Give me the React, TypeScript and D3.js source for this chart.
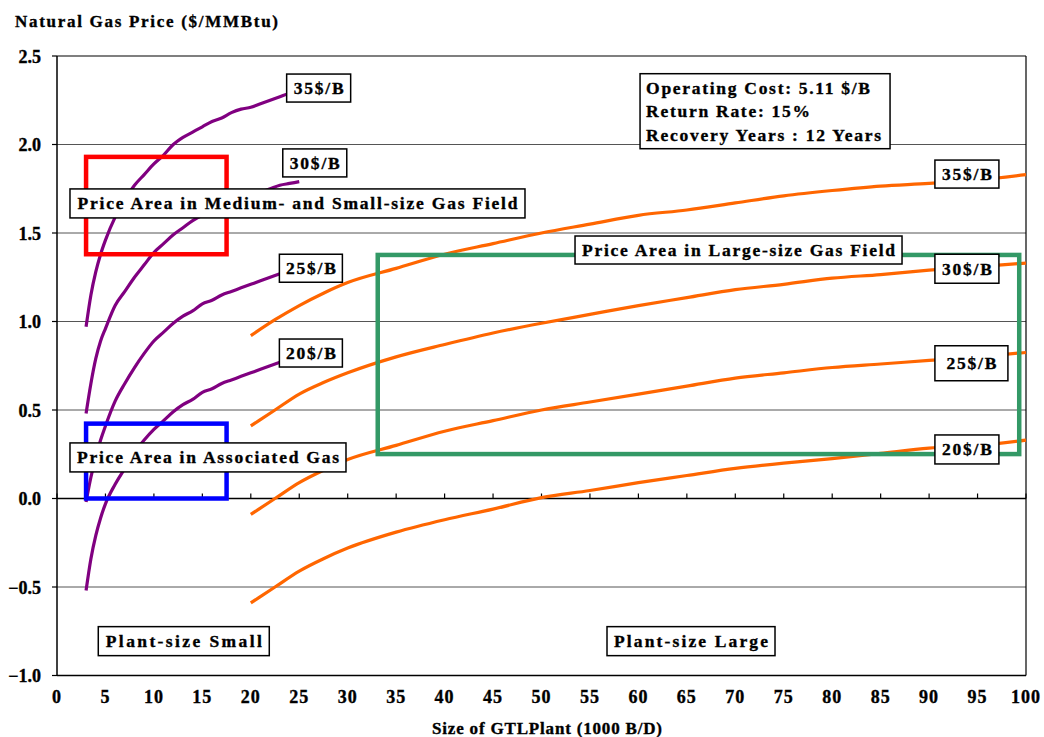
import React from "react";
import * as d3 from "d3";

// ---- Data ----
const xTickValues = [0, 5, 10, 15, 20, 25, 30, 35, 40, 45, 50, 55, 60, 65, 70, 75, 80, 85, 90, 95, 100];
const yTickValues = [-1.0, -0.5, 0.0, 0.5, 1.0, 1.5, 2.0, 2.5];

// Small plants (purple curves)
const smallSize = [3, 3.5, 4, 4.5, 5, 6, 7, 8, 9, 10, 11, 12, 13, 14, 15, 16, 17, 18, 19, 20, 21, 22, 23, 24, 25];
const small35 = [0.97, 1.15, 1.28, 1.38, 1.46, 1.59, 1.69, 1.77, 1.83, 1.89, 1.94, 2.0, 2.04, 2.07, 2.1, 2.13, 2.15, 2.18, 2.2, 2.21, 2.23, 2.25, 2.27, 2.29, 2.3];
const small30 = [0.48, 0.65, 0.79, 0.89, 0.96, 1.09, 1.17, 1.25, 1.32, 1.39, 1.44, 1.49, 1.53, 1.57, 1.6, 1.62, 1.65, 1.67, 1.69, 1.71, 1.73, 1.75, 1.77, 1.78, 1.79];
const small25 = [-0.02, 0.12, 0.23, 0.33, 0.41, 0.55, 0.65, 0.74, 0.82, 0.89, 0.94, 0.99, 1.03, 1.06, 1.1, 1.12, 1.15, 1.17, 1.19, 1.21, 1.23, 1.25, 1.27, 1.29, 1.3];
const small20 = [-0.52, -0.34, -0.21, -0.11, -0.03, 0.08, 0.17, 0.26, 0.33, 0.39, 0.44, 0.49, 0.53, 0.56, 0.6, 0.62, 0.65, 0.67, 0.69, 0.71, 0.73, 0.75, 0.77, 0.79, 0.8];

// Large plants (orange curves)
const largeSize = [20, 22.5, 25, 27.5, 30, 35, 40, 45, 50, 55, 60, 65, 70, 75, 80, 85, 90, 95, 100];
const large35 = [0.92, 1.01, 1.09, 1.16, 1.22, 1.3, 1.38, 1.44, 1.5, 1.55, 1.6, 1.63, 1.67, 1.71, 1.74, 1.765, 1.78, 1.8, 1.83];
const large30 = [0.41, 0.5, 0.59, 0.655, 0.71, 0.8, 0.87, 0.935, 0.99, 1.04, 1.09, 1.135, 1.18, 1.21, 1.245, 1.265, 1.29, 1.31, 1.33];
const large25 = [-0.09, 0.0, 0.09, 0.16, 0.22, 0.3, 0.38, 0.44, 0.5, 0.545, 0.59, 0.635, 0.68, 0.71, 0.74, 0.76, 0.78, 0.8, 0.825];
const large20 = [-0.59, -0.5, -0.41, -0.34, -0.28, -0.19, -0.12, -0.06, 0.005, 0.045, 0.09, 0.13, 0.17, 0.2, 0.225, 0.255, 0.285, 0.3, 0.33];

const oilPriceLabels = ["35$/B", "30$/B", "25$/B", "20$/B"];
const infoLines = ["Operating Cost: 5.11 $/B", "Return Rate: 15%", "Recovery Years : 12 Years"];

const W = 1044;
const H = 737;
const FONT = "'Times New Roman', 'Liberation Serif', 'DejaVu Serif', serif";
const TXT = { fontFamily: FONT, fontWeight: "bold" as const, stroke: "#000", strokeWidth: 0.35 };

export default function App() {
  const x = d3.scaleLinear().domain([0, 100]).range([57, 1026]);
  const y = d3.scaleLinear().domain([-1, 2.5]).range([675.5, 56]);

  const line = (xs: number[], ys: number[]) =>
    d3
      .line<number>()
      .x((_, i) => x(xs[i]))
      .y((d) => y(d))
      .curve(d3.curveMonotoneX)(ys) as string;

  const smallSeries = [small35, small30, small25, small20];
  const largeSeries = [large35, large30, large25, large20];

  const purpleLabelPos = [
    { x: 23.7, y: 2.398, w: 64, h: 28 },
    { x: 23.3, y: 1.975, w: 64, h: 28 },
    { x: 22.95, y: 1.38, w: 63, h: 28 },
    { x: 22.95, y: 0.901, w: 63, h: 28 },
  ];
  const orangeLabelPos = [
    { x: 90.6, y: 1.912, w: 64, h: 28 },
    { x: 90.6, y: 1.38, w: 64, h: 29 },
    { x: 90.6, y: 0.863, w: 73, h: 35 },
    { x: 90.6, y: 0.359, w: 64, h: 29 },
  ];

  const areaBoxes = [
    { text: "Price Area in Medium- and Small-size Gas Field", x: 1.34, y: 1.749, w: 455, h: 29, tl: 440 },
    { text: "Price Area in Associated Gas", x: 1.34, y: 0.314, w: 276, h: 29, tl: 262 },
    { text: "Price Area in Large-size Gas Field", x: 53.46, y: 1.483, w: 327, h: 28, tl: 313 },
    { text: "Plant-size  Small", x: 4.26, y: -0.724, w: 171, h: 29, tl: 156 },
    { text: "Plant-size  Large", x: 56.76, y: -0.724, w: 168, h: 29, tl: 154 },
  ];

  const rects = [
    { x0: 3.0, x1: 17.5, y0: 1.38, y1: 1.93, color: "#FF0000" },
    { x0: 3.0, x1: 17.5, y0: 0.0, y1: 0.423, color: "#0000FF" },
    { x0: 33.1, x1: 99.3, y0: 0.251, y1: 1.376, color: "#339966" },
  ];

  const labelBox = (
    key: string,
    text: string,
    left: number,
    top: number,
    w: number,
    h: number,
    tl: number
  ) => (
    <g key={key}>
      <rect x={left} y={top} width={w} height={h} fill="#fff" stroke="#000" strokeWidth={1.5} />
      <text
        x={left + w / 2}
        y={top + h / 2 + 6}
        textAnchor="middle"
        {...TXT}
        fontSize={17.5}
        textLength={tl}
        lengthAdjust="spacing"
      >
        {text}
      </text>
    </g>
  );

  const infoLeft = x(60.17);
  const infoTop = y(2.4);

  return (
    <svg
      width={W}
      height={H}
      viewBox={`0 0 ${W} ${H}`}
      style={{ position: "absolute", left: 0, top: 0, background: "#fff" }}
    >
      <rect x={0} y={0} width={W} height={H} fill="#fff" />

      {/* gridlines */}
      {yTickValues
        .filter((v) => v !== 0 && v !== 2.5 && v !== -1)
        .map((v) => (
          <line key={"g" + v} x1={x(0)} x2={x(100)} y1={y(v)} y2={y(v)} stroke="#555" strokeWidth={1} />
        ))}

      {/* plot frame */}
      <line x1={x(0)} x2={x(100)} y1={y(2.5)} y2={y(2.5)} stroke="#000" strokeWidth={1.2} />
      <line x1={x(100)} x2={x(100)} y1={y(2.5)} y2={y(-1)} stroke="#000" strokeWidth={1.2} />
      <line x1={x(0)} x2={x(100)} y1={y(-1)} y2={y(-1)} stroke="#000" strokeWidth={1.5} />
      <line x1={x(0)} x2={x(0)} y1={y(2.5)} y2={y(-1)} stroke="#000" strokeWidth={1.5} />

      {/* x axis at zero */}
      <line x1={x(0)} x2={x(100)} y1={y(0)} y2={y(0)} stroke="#000" strokeWidth={1.5} />
      {xTickValues.map((v) => (
        <line key={"xt" + v} x1={x(v)} x2={x(v)} y1={y(0)} y2={y(0) - 5} stroke="#000" strokeWidth={1.2} />
      ))}
      {yTickValues.map((v) => (
        <line key={"yt" + v} x1={x(0) - 5} x2={x(0)} y1={y(v)} y2={y(v)} stroke="#000" strokeWidth={1.2} />
      ))}

      {/* y tick labels */}
      {yTickValues.map((v) => (
        <text key={"yl" + v} x={41} y={y(v) + 6.5} textAnchor="end" {...TXT} fontSize={18}>
          {d3.format(".1f")(v)}
        </text>
      ))}

      {/* x tick labels */}
      {xTickValues.map((v) => (
        <text key={"xl" + v} x={x(v)} y={703} textAnchor="middle" {...TXT} fontSize={18} letterSpacing={1}>
          {v}
        </text>
      ))}

      {/* curves */}
      {smallSeries.map((s, i) => (
        <path key={"sp" + i} d={line(smallSize, s)} fill="none" stroke="#800080" strokeWidth={3.2} strokeLinejoin="round" />
      ))}
      {largeSeries.map((s, i) => (
        <path key={"lp" + i} d={line(largeSize, s)} fill="none" stroke="#FF6600" strokeWidth={3.2} strokeLinejoin="round" />
      ))}

      {/* area rectangles */}
      {rects.map((r, i) => (
        <rect
          key={"r" + i}
          x={x(r.x0)}
          y={y(r.y1)}
          width={x(r.x1) - x(r.x0)}
          height={y(r.y0) - y(r.y1)}
          fill="none"
          stroke={r.color}
          strokeWidth={4.5}
        />
      ))}

      {/* text boxes */}
      {areaBoxes.map((b, i) => labelBox("ab" + i, b.text, x(b.x), y(b.y), b.w, b.h, b.tl))}
      {purpleLabelPos.map((p, i) => labelBox("pl" + i, oilPriceLabels[i], x(p.x), y(p.y), p.w, p.h, 50))}
      {orangeLabelPos.map((p, i) => labelBox("ol" + i, oilPriceLabels[i], x(p.x), y(p.y), p.w, p.h, 50))}

      {/* info box */}
      <rect x={infoLeft} y={infoTop} width={250} height={75} fill="#fff" stroke="#000" strokeWidth={1.5} />
      {infoLines.map((t, i) => (
        <text
          key={"in" + i}
          x={infoLeft + 6}
          y={infoTop + 20 + i * 23.4}
          {...TXT}
          fontSize={17.5}
          textLength={[224, 164, 235][i]}
          lengthAdjust="spacing"
        >
          {t}
        </text>
      ))}

      {/* axis titles */}
      <text x={15} y={26.7} {...TXT} fontSize={17} textLength={263} lengthAdjust="spacing">
        Natural Gas Price ($/MMBtu)
      </text>
      <text x={547} y={734} textAnchor="middle" {...TXT} fontSize={17} textLength={230} lengthAdjust="spacing">
        Size of GTLPlant (1000 B/D)
      </text>
    </svg>
  );
}
